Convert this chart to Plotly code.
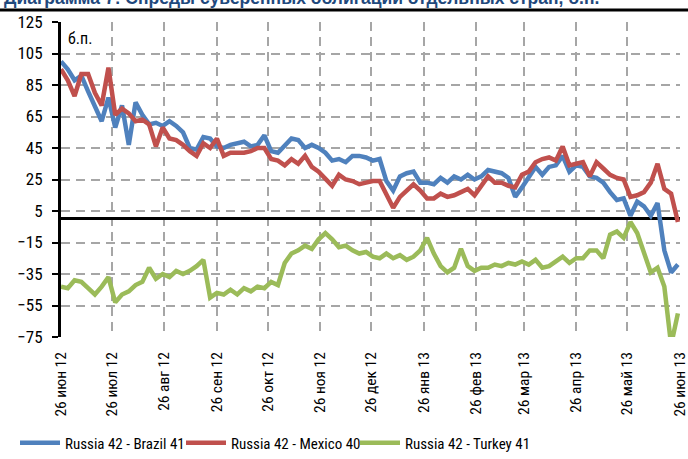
import pandas as pd
import plotly.graph_objects as go

# Sovereign spread series, sampled every 4 days from 26 Jun 2012 (basis points)
dates = pd.date_range("2012-06-26", periods=92, freq="4D")

brazil = [100, 95, 88, 91, 81, 71, 62, 77, 58, 72,
          47, 74, 66, 60, 61, 59, 62, 59, 55, 45,
          44, 52, 51, 46, 45, 47, 48, 49, 46, 47,
          53, 43, 42, 47, 51, 50, 45, 47, 45, 42,
          37, 38, 36, 40, 40, 39, 37, 38, 24, 18,
          27, 29, 30, 23, 23, 22, 26, 23, 27, 25,
          28, 25, 27, 31, 30, 29, 26, 14, 20, 27,
          33, 28, 33, 34, 40, 30, 34, 33, 27, 26,
          23, 17, 12, 13, 2, 11, 8, 2, 10, -20,
          -34, -29]

mexico = [95, 88, 78, 92, 92, 80, 72, 96, 66, 70,
          67, 62, 63, 60, 46, 58, 51, 50, 47, 43,
          40, 48, 45, 51, 40, 42, 42, 42, 43, 45,
          45, 38, 37, 34, 38, 35, 40, 33, 30, 25,
          21, 28, 25, 24, 22, 23, 24, 24, 15, 7,
          14, 18, 22, 18, 13, 13, 16, 14, 15, 17,
          19, 15, 21, 27, 23, 23, 21, 20, 28, 30,
          36, 38, 39, 37, 46, 34, 35, 36, 27, 36,
          32, 28, 26, 25, 14, 15, 17, 23, 35, 19,
          16, -2]

turkey = [-43, -44, -39, -40, -44, -48, -43, -37, -53, -48,
          -46, -42, -40, -31, -38, -35, -37, -33, -35, -33,
          -30, -26, -50, -47, -48, -45, -48, -44, -46, -43,
          -44, -40, -42, -28, -22, -20, -17, -19, -13, -9,
          -13, -18, -17, -20, -22, -21, -24, -25, -22, -25,
          -23, -26, -24, -20, -12, -22, -30, -34, -31, -19,
          -30, -33, -31, -31, -29, -30, -28, -29, -27, -29,
          -26, -31, -30, -27, -24, -28, -25, -25, -20, -20,
          -25, -10, -8, -12, -2, -9, -22, -34, -31, -43,
          -80, -60]

series_names = ["Russia 42 - Brazil 41", "Russia 42 - Mexico 40", "Russia 42 - Turkey 41"]
series_colors = ["#4F81BD", "#C0504D", "#9BBB59"]

tick_dates = pd.date_range("2012-06-26", "2013-06-26", freq=pd.DateOffset(months=1))
tick_text = ["26 июн 12", "26 июл 12", "26 авг 12", "26 сен 12", "26 окт 12", "26 ноя 12",
             "26 дек 12", "26 янв 13", "26 фев 13", "26 мар 13", "26 апр 13", "26 май 13",
             "26 июн 13"]

FONT = "Liberation Sans Narrow, Roboto Condensed, Roboto, sans-serif"

W, H = 688, 459
L, R, T, B = 61, 8, 22, 122
pw, ph = W - L - R, H - T - B

def px_x(p):
    return (p - L) / pw

def px_y(p):
    return (H - B - p) / ph

# one legend box per series so each entry sits where it should along the bottom
legend_ids = ["legend", "legend2", "legend3"]
legend_left = [15, 181, 355]

fig = go.Figure()
for name, vals, col, lid in zip(series_names, [brazil, mexico, turkey], series_colors, legend_ids):
    fig.add_trace(go.Scatter(x=dates, y=vals, mode="lines", name=name, legend=lid,
                             line=dict(color=col, width=4.5)))

legend_style = dict(orientation="h", xanchor="left", y=px_y(443), yanchor="middle",
                    font=dict(size=15), itemwidth=40, bgcolor="rgba(0,0,0,0)")

fig.update_layout(
    width=W, height=H,
    margin=dict(l=L, r=R, t=T, b=B, autoexpand=False),
    paper_bgcolor="white", plot_bgcolor="white",
    font=dict(family=FONT, size=15, color="black"),
    showlegend=True,
    legend=dict(x=px_x(legend_left[0]), **legend_style),
    legend2=dict(x=px_x(legend_left[1]), **legend_style),
    legend3=dict(x=px_x(legend_left[2]), **legend_style),
    xaxis=dict(
        type="date",
        range=[tick_dates[0], tick_dates[-1] + pd.Timedelta(hours=6)],
        tickmode="array", tickvals=tick_dates, ticktext=tick_text,
        tickangle=-90, tickfont=dict(size=15.5), ticklabeloverflow="allow",
        showgrid=True, gridcolor="#A6A6A6", gridwidth=1.5, griddash="9px,6px",
        showline=False, ticks="", ticklabelstandoff=11, automargin=False,
    ),
    yaxis=dict(
        range=[-75, 125], tick0=-75, dtick=20,
        tickfont=dict(size=17),
        showgrid=True, gridcolor="#A6A6A6", gridwidth=1.5, griddash="9px,6px",
        showline=True, linecolor="black", linewidth=3,
        ticks="outside", ticklen=6, tickwidth=2, tickcolor="black",
        zeroline=True, zerolinecolor="black", zerolinewidth=3,
        ticklabelstandoff=6, automargin=False,
    ),
)

# Heading rule and caption above the chart
fig.add_shape(type="line", xref="paper", yref="paper",
              x0=px_x(0), x1=px_x(W), y0=px_y(10), y1=px_y(10),
              line=dict(color="black", width=3))
fig.add_annotation(text="<b>Диаграмма 7: Спреды суверенных облигаций отдельных стран, б.п.</b>",
                   xref="paper", yref="paper", x=px_x(2), y=px_y(10),
                   xanchor="left", yanchor="bottom", showarrow=False,
                   font=dict(family="Liberation Sans, Arial, sans-serif", size=17.5, color="#1F497D"))
fig.add_annotation(text="б.п.", xref="paper", yref="paper", x=px_x(66), y=px_y(38),
                   xanchor="left", yanchor="middle", showarrow=False,
                   font=dict(size=16, color="black"))

fig.write_html("out.html")
